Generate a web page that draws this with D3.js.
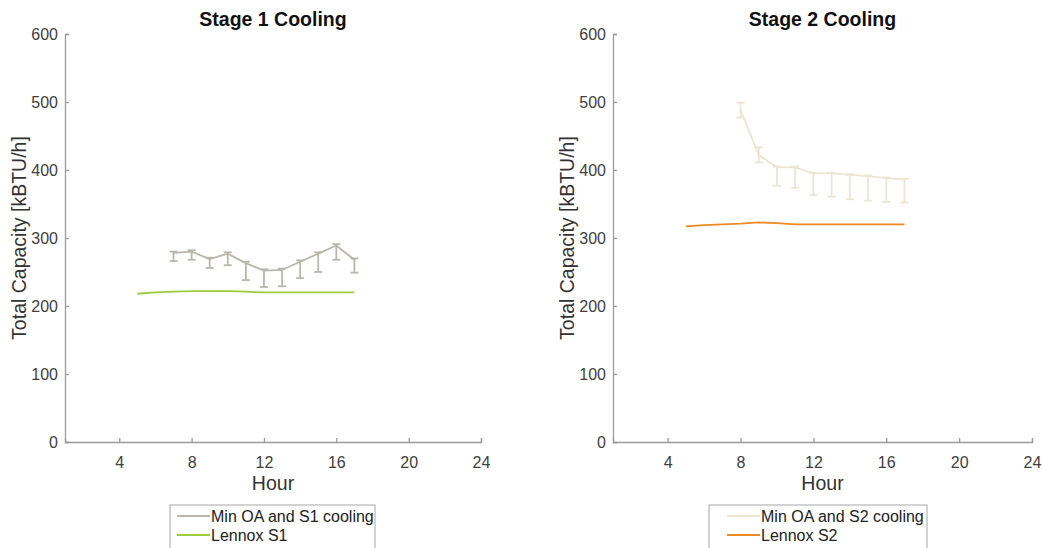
<!DOCTYPE html>
<html>
<head>
<meta charset="utf-8">
<script src="https://cdn.jsdelivr.net/npm/d3@7"></script>
<style>
  html, body { margin: 0; padding: 0; background: #fff; }
  svg { display: block; font-family: "Liberation Sans", Arial, Helvetica, sans-serif; }
</style>
</head>
<body>
<svg id="chart" width="1042" height="548"></svg>
<script>
// Hourly total capacity, measured (mean with error range) vs. Lennox rating
const xTicks = [4, 8, 12, 16, 20, 24];
const yTicks = [0, 100, 200, 300, 400, 500, 600];

const s1Hours   = [7, 8, 9, 10, 11, 12, 13, 14, 15, 16, 17];
const s1Mean    = [278, 280, 269, 277, 263, 252, 253, 265, 277, 289, 268];
const s1ErrLow  = [12, 12, 13, 17, 25, 24, 24, 24, 27, 21, 19];
const s1ErrHigh = [2, 2, 2, 2, 2, 2, 2, 2, 2, 2, 2];

const s2Hours   = [8, 9, 10, 11, 12, 13, 14, 15, 16, 17];
const s2Mean    = [488, 422, 404, 404, 395, 395, 393, 391, 388, 386];
const s2ErrLow  = [11, 11, 27, 30, 32, 34, 36, 36, 35, 34];
const s2ErrHigh = [11, 11, 1, 1, 1, 1, 1, 1, 1, 1];

const lennoxHours = [5, 6, 7, 8, 9, 10, 11, 12, 13, 14, 15, 16, 17];
const lennoxS1 = [218, 220, 221, 222, 222, 222, 221, 220, 220, 220, 220, 220, 220];
const lennoxS2 = [317, 319, 320, 321, 323, 322, 320, 320, 320, 320, 320, 320, 320];

const panels = [
  {
    title: "Stage 1 Cooling", left: 65, right: 481,
    hours: s1Hours, mean: s1Mean, lo: s1ErrLow, hi: s1ErrHigh, color: "#bab6aa",
    refHours: lennoxHours, ref: lennoxS1, refColor: "#9dcc3a",
    names: ["Min OA and S1 cooling", "Lennox S1"],
    legend: { x: 170, w: 205, lineX: 177 }
  },
  {
    title: "Stage 2 Cooling", left: 613, right: 1032,
    hours: s2Hours, mean: s2Mean, lo: s2ErrLow, hi: s2ErrHigh, color: "#ede5d3",
    refHours: lennoxHours, ref: lennoxS2, refColor: "#ee8a22",
    names: ["Min OA and S2 cooling", "Lennox S2"],
    legend: { x: 709, w: 218, lineX: 727 }
  }
];

const plotTop = 34, plotBottom = 442;
const axisColor = "#9a9a9a", textColor = "#404040";
const svg = d3.select("#chart");

panels.forEach(p => {
  const x = d3.scaleLinear().domain([1, 24]).range([p.left, p.right]);
  const y = d3.scaleLinear().domain([0, 600]).range([plotBottom, plotTop]);
  const g = svg.append("g");

  // axes (ticks point inward)
  const xAxis = g.append("g").attr("transform", `translate(0,${plotBottom})`)
    .call(d3.axisBottom(x).tickValues(xTicks).tickSizeInner(-4).tickSizeOuter(-4).tickPadding(12));
  const yAxis = g.append("g").attr("transform", `translate(${p.left},0)`)
    .call(d3.axisLeft(y).tickValues(yTicks).tickSizeInner(-4).tickSizeOuter(-4).tickPadding(7));
  [xAxis, yAxis].forEach(a => {
    a.selectAll("path, line").attr("stroke", axisColor).attr("stroke-width", 1.3);
    a.selectAll("text").attr("fill", textColor).attr("font-size", 16)
      .attr("font-family", "'Liberation Sans', Arial, sans-serif");
  });
  xAxis.selectAll("text").attr("dy", "0.9em");

  // title and axis labels
  g.append("text").attr("x", (p.left + p.right) / 2).attr("y", 26)
    .attr("text-anchor", "middle").attr("font-weight", "bold").attr("font-size", 19.5)
    .attr("fill", "#111").text(p.title);
  g.append("text").attr("x", (p.left + p.right) / 2).attr("y", 490)
    .attr("text-anchor", "middle").attr("font-size", 19.5).attr("fill", "#333").text("Hour");
  g.append("text")
    .attr("transform", `translate(${p.left - 39},${(plotTop + plotBottom) / 2}) rotate(-90)`)
    .attr("text-anchor", "middle").attr("font-size", 19.5).attr("fill", "#333")
    .text("Total Capacity [kBTU/h]");

  // reference rating line
  const refData = p.refHours.map((h, i) => [h, p.ref[i]]);
  g.append("path").datum(refData)
    .attr("fill", "none").attr("stroke", p.refColor).attr("stroke-width", 1.8)
    .attr("d", d3.line().x(d => x(d[0])).y(d => y(d[1])));

  // measured mean line with error bars
  const data = p.hours.map((h, i) => ({ h, m: p.mean[i], lo: p.lo[i], hi: p.hi[i] }));
  g.append("path").datum(data)
    .attr("fill", "none").attr("stroke", p.color).attr("stroke-width", 1.8)
    .attr("d", d3.line().x(d => x(d.h)).y(d => y(d.m)));
  const cap = 4;
  const eb = g.append("g").attr("stroke", p.color).attr("stroke-width", 1.8);
  data.forEach(d => {
    const cx = x(d.h), y1 = y(d.m + d.hi), y2 = y(d.m - d.lo);
    eb.append("line").attr("x1", cx).attr("x2", cx).attr("y1", y1).attr("y2", y2);
    eb.append("line").attr("x1", cx - cap).attr("x2", cx + cap).attr("y1", y1).attr("y2", y1);
    eb.append("line").attr("x1", cx - cap).attr("x2", cx + cap).attr("y1", y2).attr("y2", y2);
  });

  // legend
  const L = p.legend;
  const lg = g.append("g");
  lg.append("rect").attr("x", L.x).attr("y", 505).attr("width", L.w).attr("height", 60)
    .attr("fill", "#fff").attr("stroke", "#a6a6a6").attr("stroke-width", 1);
  const rows = [{ c: p.color, t: p.names[0], y: 516 }, { c: p.refColor, t: p.names[1], y: 535 }];
  rows.forEach(r => {
    lg.append("line").attr("x1", L.lineX).attr("x2", L.lineX + 33).attr("y1", r.y).attr("y2", r.y)
      .attr("stroke", r.c).attr("stroke-width", 2);
    lg.append("text").attr("x", L.lineX + 34).attr("y", r.y + 5.5)
      .attr("font-size", 16).attr("fill", "#222").text(r.t);
  });
});
</script>
</body>
</html>
